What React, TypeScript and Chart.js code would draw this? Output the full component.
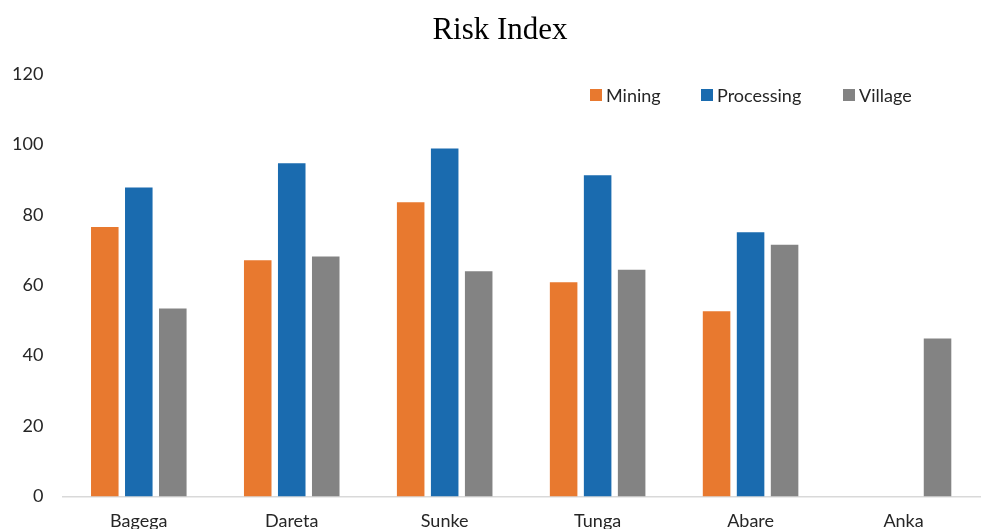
import React, { useEffect, useRef } from "react";
import { Chart, registerables } from "chart.js";

Chart.register(...registerables);

const categories = ["Bagega", "Dareta", "Sunke", "Tunga", "Abare", "Anka"];
const mining = [76.6, 67.1, 83.6, 60.9, 52.6, null];
const processing = [87.8, 94.7, 98.9, 91.3, 75.1, null];
const village = [53.4, 68.2, 64.0, 64.4, 71.5, 44.9];
const yTicks = [0, 20, 40, 60, 80, 100, 120];
const TITLE = "Risk Index";

const COLORS = { mining: "#E8792F", processing: "#1A6BAF", village: "#838383" };
const FONT = "Lato, 'Liberation Sans', sans-serif";
const TITLE_FONT = "'Liberation Serif', 'Times New Roman', serif";

const overlayPlugin = {
  id: "overlay",
  afterDraw(chart: any) {
    const ctx = chart.ctx;
    ctx.save();
    // title
    ctx.font = `31px ${TITLE_FONT}`;
    ctx.fillStyle = "#000";
    ctx.textAlign = "center";
    ctx.textBaseline = "middle";
    ctx.fillText(TITLE, 500, 31);
    // legend
    const positions = [590, 701, 843];
    const y = 95;
    ctx.font = `18px ${FONT}`;
    ctx.textAlign = "left";
    chart.data.datasets.forEach((ds: any, i: number) => {
      const x = positions[i];
      ctx.fillStyle = ds.backgroundColor;
      ctx.fillRect(x, y - 6, 12, 12);
      ctx.fillStyle = "#262626";
      ctx.fillText(ds.label, x + 16, y + 1);
    });
    ctx.restore();
  },
};

export default function App() {
  const ref = useRef<HTMLCanvasElement | null>(null);
  useEffect(() => {
    document.body.style.margin = "0";
    if (!ref.current) return;
    const chart = new Chart(ref.current, {
      type: "bar",
      data: {
        labels: categories,
        datasets: [
          { label: "Mining", data: mining, backgroundColor: COLORS.mining },
          { label: "Processing", data: processing, backgroundColor: COLORS.processing },
          { label: "Village", data: village, backgroundColor: COLORS.village },
        ],
      },
      options: {
        responsive: false,
        animation: false,
        layout: { padding: { left: -7, right: 3, top: 0, bottom: 0 } },
        datasets: { bar: { categoryPercentage: 0.667, barPercentage: 0.81 } },
        plugins: {
          legend: { display: false },
          tooltip: { enabled: false },
          title: {
            display: true,
            text: TITLE,
            color: "rgba(0,0,0,0)",
            font: { family: TITLE_FONT, size: 31, weight: "normal" },
            padding: { top: 15, bottom: 22 },
          },
        },
        scales: {
          x: {
            grid: { display: false, drawTicks: false },
            border: { display: true, color: "#D9D9D9", width: 1.5 },
            ticks: { color: "#262626", font: { family: FONT, size: 18 }, padding: 14 },
          },
          y: {
            min: 0,
            max: 120,
            afterBuildTicks: (axis: any) => {
              axis.ticks = yTicks.map((v) => ({ value: v }));
            },
            grid: { display: false, drawTicks: false },
            border: { display: false },
            ticks: { color: "#262626", font: { family: FONT, size: 18 }, padding: 19 },
          },
        },
      },
      plugins: [overlayPlugin],
    });
    return () => chart.destroy();
  }, []);
  return (
    <div style={{ width: 983, height: 529, overflow: "hidden" }}>
      <canvas ref={ref} width={983} height={546} />
    </div>
  );
}
